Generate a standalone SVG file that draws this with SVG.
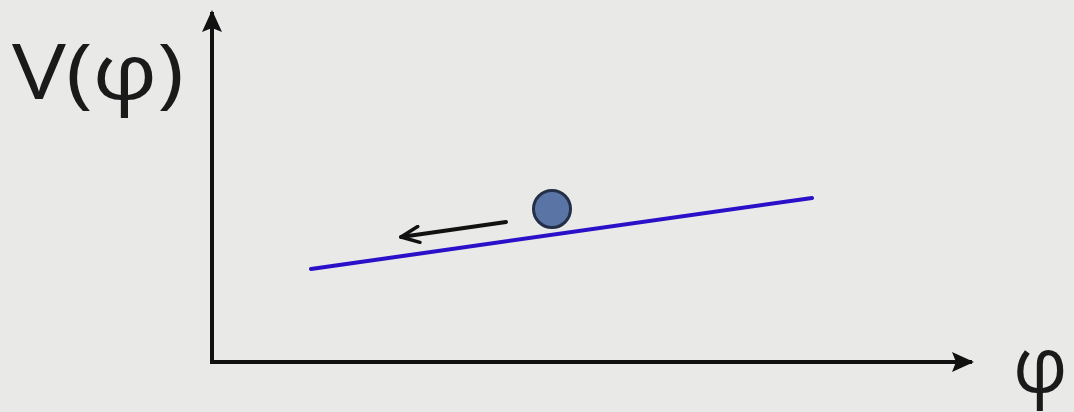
<svg xmlns="http://www.w3.org/2000/svg" width="1074" height="412" viewBox="0 0 1074 412">
<style>
.axis{stroke:#111;stroke-width:4;fill:none}
.lbl{font-family:"Open Sans","Liberation Sans",sans-serif;fill:#1a1a1a}
</style>
<defs>
<marker id="ah" markerWidth="10" markerHeight="10" refX="8" refY="5" orient="auto" markerUnits="userSpaceOnUse" viewBox="0 0 10 10">
<path d="M0,0 L10,5 L0,10 z" fill="#111"/>
</marker>
<marker id="ax" markerWidth="22" markerHeight="20" refX="20" refY="10" orient="auto" markerUnits="userSpaceOnUse" viewBox="0 0 22 20">
<path d="M0,0 L22,10 L0,20 L4,10 z" fill="#111"/>
</marker>
<marker id="open" markerWidth="22" markerHeight="20" refX="20" refY="10" orient="auto" markerUnits="userSpaceOnUse" viewBox="0 0 22 20">
<path d="M2,2 L20,10 L2,18" fill="none" stroke="#111" stroke-width="3.5" stroke-linecap="round" stroke-linejoin="round"/>
</marker>
</defs>
<rect width="1074" height="412" fill="#e9e9e7"/>
<g id="connectors">
<line class="axis" x1="212" y1="364" x2="212" y2="12" marker-end="url(#ax)"/>
<line class="axis" x1="210" y1="362" x2="972" y2="362" marker-end="url(#ax)"/>
<line x1="311" y1="269" x2="812" y2="198" stroke="#2a10c8" stroke-width="4" stroke-linecap="round"/>
<line x1="506" y1="222" x2="401" y2="237" stroke="#111" stroke-width="4" stroke-linecap="round" marker-end="url(#open)"/>
</g>
<g id="ball">
<circle cx="552" cy="209" r="18.5" fill="#5a74a6" stroke="#243048" stroke-width="3"/>
</g>
<g id="ylabel">
<text class="lbl" x="12" y="99" font-size="76" textLength="172" lengthAdjust="spacingAndGlyphs">V(φ)</text>
</g>
<g id="xlabel">
<text class="lbl" x="1013" y="392" font-size="76">φ</text>
</g>
</svg>
